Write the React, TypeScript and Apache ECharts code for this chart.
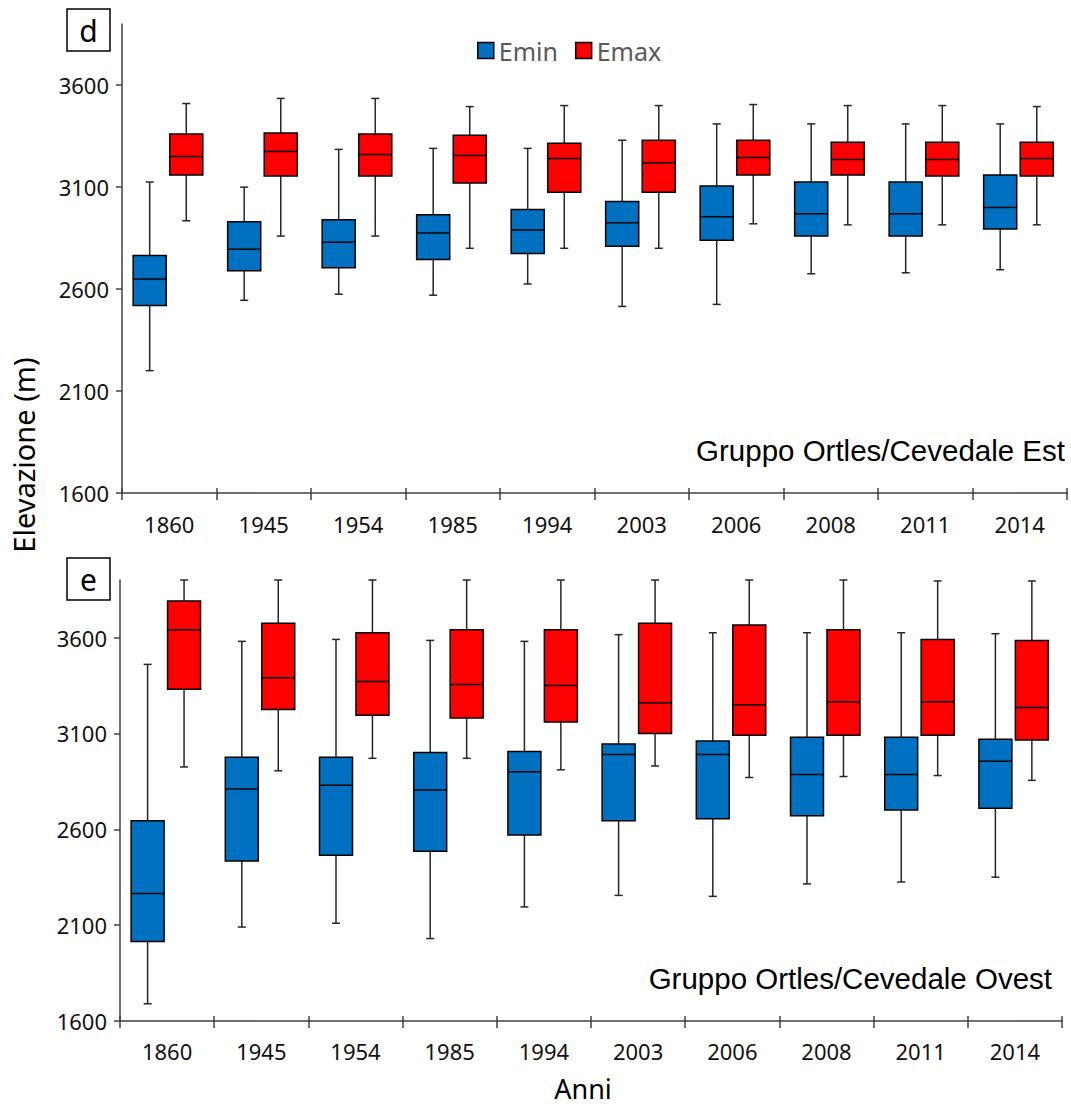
import React, { useEffect, useRef } from 'react';
import * as echarts from 'echarts';

const years = ['1860', '1945', '1954', '1985', '1994', '2003', '2006', '2008', '2011', '2014'];
const yTicks = [1600, 2100, 2600, 3100, 3600];

// Each row: [lower whisker, Q1, median, Q3, upper whisker]
const estEmin = [
  [2200, 2520, 2650, 2765, 3125],
  [2545, 2690, 2795, 2930, 3100],
  [2575, 2705, 2830, 2940, 3285],
  [2570, 2745, 2875, 2965, 3290],
  [2625, 2775, 2890, 2990, 3290],
  [2515, 2810, 2925, 3030, 3330],
  [2525, 2840, 2955, 3105, 3410],
  [2675, 2860, 2970, 3125, 3410],
  [2680, 2860, 2970, 3125, 3410],
  [2695, 2895, 3000, 3160, 3410],
];
const estEmax = [
  [2935, 3160, 3250, 3360, 3510],
  [2860, 3155, 3275, 3365, 3535],
  [2860, 3155, 3260, 3360, 3535],
  [2800, 3120, 3255, 3355, 3495],
  [2800, 3075, 3240, 3315, 3500],
  [2800, 3075, 3220, 3330, 3500],
  [2920, 3160, 3245, 3330, 3505],
  [2915, 3160, 3235, 3320, 3500],
  [2915, 3155, 3235, 3320, 3500],
  [2915, 3155, 3240, 3320, 3495],
];
const ovestEmin = [
  [1690, 2015, 2265, 2645, 3460],
  [2090, 2435, 2810, 2975, 3580],
  [2110, 2465, 2830, 2975, 3590],
  [2030, 2485, 2805, 3000, 3585],
  [2195, 2570, 2900, 3005, 3580],
  [2255, 2645, 2990, 3045, 3615],
  [2250, 2655, 2990, 3060, 3625],
  [2315, 2670, 2885, 3080, 3625],
  [2325, 2700, 2885, 3080, 3625],
  [2350, 2710, 2955, 3070, 3620],
];
const ovestEmax = [
  [2925, 3330, 3640, 3790, 3900],
  [2905, 3225, 3390, 3675, 3900],
  [2970, 3195, 3370, 3625, 3900],
  [2970, 3180, 3355, 3640, 3900],
  [2910, 3160, 3350, 3640, 3900],
  [2930, 3100, 3260, 3675, 3900],
  [2870, 3090, 3250, 3665, 3900],
  [2875, 3090, 3265, 3640, 3900],
  [2880, 3090, 3265, 3590, 3895],
  [2855, 3065, 3235, 3585, 3895],
];

const BLUE = '#0070C0';
const RED = '#FF0000';
const FONT = '"Noto Sans", "Open Sans", sans-serif';
const ARIAL = '"Liberation Sans", Arial, sans-serif';

function toData(rows: number[][]) {
  return rows.map((r, i) => [i, ...r]);
}

function makeRender(offsetFrac: number, color: string) {
  return (params: any, api: any) => {
    const cat = api.value(0);
    const band = api.size([1, 0])[0];
    const base = api.coord([cat, api.value(1)]);
    const x = base[0] + offsetFrac * band;
    const half = 0.175 * band;
    const cap = 4;
    const yLow = base[1];
    const yQ1 = api.coord([cat, api.value(2)])[1];
    const yMed = api.coord([cat, api.value(3)])[1];
    const yQ3 = api.coord([cat, api.value(4)])[1];
    const yHigh = api.coord([cat, api.value(5)])[1];
    const wStyle = { stroke: '#262626', lineWidth: 1.5 };
    return {
      type: 'group',
      children: [
        { type: 'line', shape: { x1: x, y1: yLow, x2: x, y2: yQ1 }, style: wStyle },
        { type: 'line', shape: { x1: x, y1: yQ3, x2: x, y2: yHigh }, style: wStyle },
        { type: 'line', shape: { x1: x - cap, y1: yLow, x2: x + cap, y2: yLow }, style: wStyle },
        { type: 'line', shape: { x1: x - cap, y1: yHigh, x2: x + cap, y2: yHigh }, style: wStyle },
        {
          type: 'rect',
          shape: { x: x - half, y: yQ3, width: 2 * half, height: yQ1 - yQ3 },
          style: { fill: color, stroke: '#000', lineWidth: 1.5 },
        },
        { type: 'line', shape: { x1: x - half, y1: yMed, x2: x + half, y2: yMed }, style: { stroke: '#000', lineWidth: 1.5 } },
      ],
    };
  };
}

function xAxesFor(gridIndex: number, labelMargin: number) {
  return [
    {
      gridIndex,
      type: 'category',
      data: years,
      boundaryGap: true,
      axisLine: { show: true, lineStyle: { color: '#404040', width: 1.5 } },
      axisTick: { show: true, interval: 0, length: 7, lineStyle: { color: '#404040', width: 1.5 } },
      axisLabel: { show: true, interval: 0, fontSize: 22, color: '#111', fontFamily: FONT, margin: labelMargin },
      splitLine: { show: false },
    },
    {
      gridIndex,
      type: 'category',
      data: years,
      position: 'bottom',
      offset: 0,
      boundaryGap: true,
      axisLine: { show: false },
      axisTick: { show: true, interval: 0, inside: true, length: 5, lineStyle: { color: '#404040', width: 1.5 } },
      axisLabel: { show: false },
      splitLine: { show: false },
    },
  ];
}

function yAxisFor(gridIndex: number) {
  return {
    gridIndex,
    type: 'value',
    min: 1600,
    max: 3900,
    interval: 500,
    axisLine: { show: true, lineStyle: { color: '#404040', width: 1.5 } },
    axisTick: { show: true, length: 6, customValues: yTicks, lineStyle: { color: '#404040', width: 1.5 } },
    axisLabel: {
      customValues: yTicks,
      formatter: (v: number) => String(v),
      fontSize: 22,
      color: '#111',
      fontFamily: FONT,
      margin: 13,
    },
    splitLine: { show: false },
  };
}

function boxSeries(name: string, rows: number[][], color: string, offset: number, axisIdx: number, yIdx: number) {
  return {
    type: 'custom',
    name,
    xAxisIndex: axisIdx,
    yAxisIndex: yIdx,
    data: toData(rows),
    encode: { x: 0, y: [1, 2, 3, 4, 5] },
    renderItem: makeRender(offset, color),
    itemStyle: { color, borderColor: '#000', borderWidth: 1.5 },
    clip: false,
  };
}

export default function App() {
  const ref = useRef<HTMLDivElement>(null);
  useEffect(() => {
    if (!ref.current) return;
    const chart = echarts.init(ref.current, null, { renderer: 'svg' });
    chart.setOption({
      animation: false,
      backgroundColor: '#fff',
      legend: {
        left: 472,
        top: 33,
        itemWidth: 16,
        itemHeight: 16,
        itemGap: 17,
        icon: 'rect',
        textStyle: { fontSize: 25, color: '#595959', fontFamily: FONT },
        data: [
          { name: 'Emin', itemStyle: { color: BLUE, borderColor: '#000', borderWidth: 1.5 } },
          { name: 'Emax', itemStyle: { color: RED, borderColor: '#000', borderWidth: 1.5 } },
        ],
      },
      grid: [
        { left: 122, top: 24, width: 945, height: 469 },
        { left: 120, top: 580, width: 942, height: 441 },
      ],
      xAxis: [...xAxesFor(0, 20), ...xAxesFor(1, 19)],
      yAxis: [yAxisFor(0), yAxisFor(1)],
      series: [
        boxSeries('Emin', estEmin, BLUE, -0.207, 0, 0),
        boxSeries('Emax', estEmax, RED, 0.18, 0, 0),
        boxSeries('Emin', ovestEmin, BLUE, -0.207, 2, 1),
        boxSeries('Emax', ovestEmax, RED, 0.18, 2, 1),
      ],
      graphic: [
        { type: 'rect', shape: { x: 67, y: 9, width: 43, height: 42 }, style: { fill: '#fff', stroke: '#000', lineWidth: 1.5 } },
        { type: 'text', x: 88.5, y: 30, style: { text: 'd', fontSize: 30, fontFamily: FONT, fill: '#000', align: 'center', verticalAlign: 'middle' } },
        { type: 'rect', shape: { x: 67, y: 558, width: 43, height: 42 }, style: { fill: '#fff', stroke: '#000', lineWidth: 1.5 } },
        { type: 'text', x: 88.5, y: 579, style: { text: 'e', fontSize: 30, fontFamily: FONT, fill: '#000', align: 'center', verticalAlign: 'middle' } },
        { type: 'text', x: 1065, y: 450, style: { text: 'Gruppo Ortles/Cevedale Est', fontSize: 29.5, fontFamily: ARIAL, fill: '#000', align: 'right', verticalAlign: 'middle' } },
        { type: 'text', x: 1052, y: 978, style: { text: 'Gruppo Ortles/Cevedale Ovest', fontSize: 29.5, fontFamily: ARIAL, fill: '#000', align: 'right', verticalAlign: 'middle' } },
        { type: 'text', x: 23, y: 455, rotation: Math.PI / 2, style: { text: 'Elevazione (m)', fontSize: 29, fontFamily: FONT, fill: '#000', align: 'center', verticalAlign: 'middle' } },
        { type: 'text', x: 583, y: 1088, style: { text: 'Anni', fontSize: 27, fontFamily: FONT, fill: '#000', align: 'center', verticalAlign: 'middle' } },
      ],
    });
    return () => chart.dispose();
  }, []);
  return <div ref={ref} style={{ position: 'absolute', left: 0, top: 0, width: 1071, height: 1106 }} />;
}
